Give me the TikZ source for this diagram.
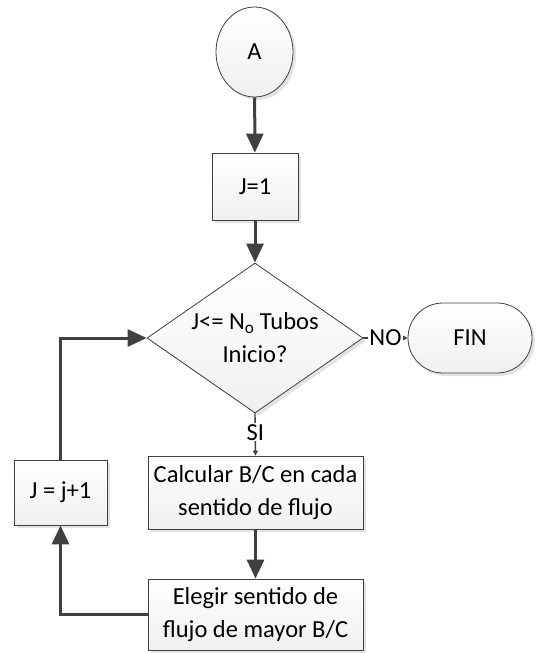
\documentclass[tikz,border=0pt]{standalone}
\usepackage{fontspec}
\setmainfont{Carlito}
\usetikzlibrary{shapes.geometric,shapes.misc,arrows.meta,shadows,positioning}
\definecolor{linec}{HTML}{404040}
\definecolor{boxfill}{HTML}{F0F0F0}
\tikzset{
  base/.style={draw=linec, line width=0.8pt, top color=white, bottom color=boxfill,
    drop shadow={shadow xshift=3pt, shadow yshift=-3pt, fill=gray!22, opacity=1},
    font=\fontsize{24.5}{33}\selectfont, align=center, inner sep=0pt},
  procbox/.style={base, rectangle},
  thick connector/.style={draw=linec, line width=3pt, -{Triangle[width=17pt,length=19pt]}},
  thin connector/.style={draw=linec, line width=1.4pt, -{Triangle[width=5pt,length=5pt]}},
  lbl/.style={fill=white, inner sep=1pt, font=\fontsize{24.5}{28}\selectfont},
}
\begin{document}
\begin{tikzpicture}[x=1pt,y=-1pt]
\useasboundingbox (0,0) rectangle (538,653);
\node[base, ellipse, minimum width=77pt, minimum height=90pt] (A) at (254.5,52) {A};
\node[procbox, minimum width=86pt, minimum height=67pt] (J1) at (255,186.5) {J=1};
\node[base, diamond, minimum width=216pt, minimum height=150pt, aspect=1.44] (D) at (255,338) {J<= N\textsubscript{o} Tubos\\Inicio?};
\node[base, rounded rectangle, minimum width=124pt, minimum height=70pt] (F) at (470,338) {FIN};
\node[procbox, minimum width=215pt, minimum height=73pt] (C) at (255.5,492.5) {Calcular B/C en cada\\sentido de flujo};
\node[procbox, minimum width=215pt, minimum height=71pt] (E) at (255.5,614.5) {Elegir sentido de\\flujo de mayor B/C};
\node[procbox, minimum width=93pt, minimum height=65pt] (Jj) at (60.5,492.5) {J = j+1};
\coordinate (c1) at (60.5,614.5);
\coordinate (c2) at (60.5,338);
\draw[thick connector] (A) -- (J1);
\draw[thick connector] (J1) -- (D);
\draw[thin connector] (D.east) -- node[lbl] (no) {NO} (F.west);
\draw[thin connector] (D.south) -- node[lbl, pos=0.45] (si) {SI} (C.north);
\draw[thick connector] (C) -- (E);
\draw[thick connector] (E.west) -- (c1) -- (Jj.south);
\draw[thick connector] (Jj.north) -- (c2) -- (D.west);
\end{tikzpicture}
\end{document}
